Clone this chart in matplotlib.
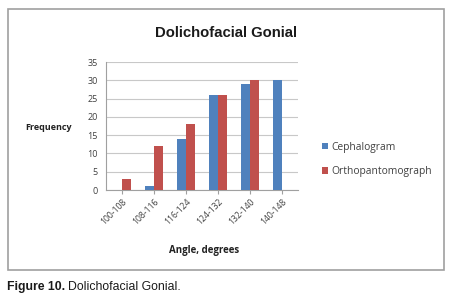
import matplotlib
matplotlib.use("Agg")
import matplotlib.pyplot as plt
import numpy as np
from matplotlib.patches import Rectangle

categories = ["100-108", "108-116", "116-124", "124-132", "132-140", "140-148"]
cephalogram = [0, 1, 14, 26, 29, 30]
orthopantomograph = [3, 12, 18, 26, 30, 0]
yticks = [0, 5, 10, 15, 20, 25, 30, 35]

W, H = 458, 303
fig = plt.figure(figsize=(W / 100, H / 100), dpi=100)
fig.patch.set_facecolor("white")

# outer chart border
fig.add_artist(Rectangle((8 / W, 1 - 270 / H), (444 - 8) / W, (270 - 9) / H,
                         transform=fig.transFigure, fill=False,
                         edgecolor="#a0a0a0", linewidth=1.2))

left, right, top, bottom = 106, 298, 62, 190
ax = fig.add_axes([left / W, 1 - bottom / H, (right - left) / W, (bottom - top) / H])

x = np.arange(len(categories))
bw = 0.28
ax.bar(x - bw / 2, cephalogram, bw, color="#4F81BD", label="Cephalogram", zorder=3)
ax.bar(x + bw / 2, orthopantomograph, bw, color="#C0504D", label="Orthopantomograph", zorder=3)

ax.set_xlim(-0.5, len(categories) - 0.5)
ax.set_ylim(0, 35)
ax.set_yticks(yticks)
ax.set_yticklabels([str(v) for v in yticks], fontsize=6.5, color="#404040", family="Open Sans")
ax.set_xticks(x)
ax.set_xticklabels(categories, rotation=45, ha="right", rotation_mode="anchor",
                   fontsize=6.2, color="#404040", family="Open Sans")
ax.yaxis.grid(True, color="#c8c8c8", linewidth=0.8, zorder=0)
for s in ["top", "right"]:
    ax.spines[s].set_visible(False)
ax.spines["left"].set_color("#a0a0a0")
ax.spines["bottom"].set_color("#a0a0a0")
ax.tick_params(axis="y", length=0, pad=6)
ax.tick_params(axis="x", length=3, color="#a0a0a0", pad=2)

fig.text(226 / W, 1 - 33 / H, "Dolichofacial Gonial", ha="center", va="center",
         fontsize=10.7, fontweight="bold", family="Liberation Sans", color="#1a1a1a")
fig.text(25 / W, 1 - 127 / H, "Frequency", ha="left", va="center",
         fontsize=6.5, fontweight="bold", family="Open Sans", color="#222222")
fig.text(204 / W, 1 - 250 / H, "Angle, degrees", ha="center", va="center",
         fontsize=7, fontweight="bold", family="Open Sans", color="#222222")

leg = ax.legend(loc="center left", bbox_to_anchor=((313 - left) / (right - left), 0.24),
                frameon=False, handlelength=0.6, handleheight=0.6,
                handletextpad=0.3, labelspacing=1.3, prop={"family": "Open Sans", "size": 7.4})
for t in leg.get_texts():
    t.set_color("#404040")

fig.text(7 / W, 1 - 287 / H, "Figure 10.", ha="left", va="center",
         fontsize=8.8, fontweight="bold", family="Liberation Sans", color="#1a1a1a")
fig.text(68 / W, 1 - 287 / H, "Dolichofacial Gonial.", ha="left", va="center",
         fontsize=8.8, family="Liberation Sans", color="#1a1a1a")

fig.savefig("out.png", dpi=100, facecolor="white")
